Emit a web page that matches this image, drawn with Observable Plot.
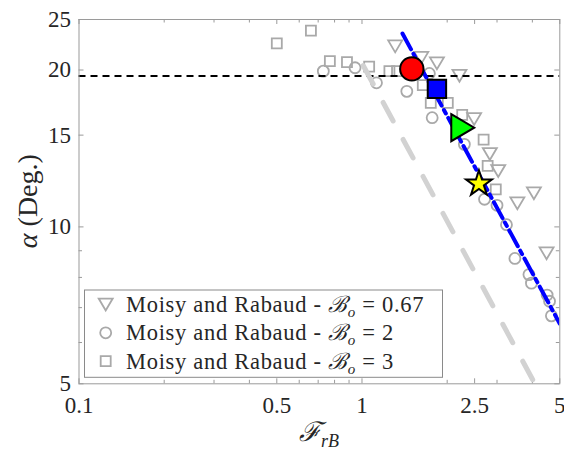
<!DOCTYPE html>
<html>
<head>
<meta charset="utf-8">
<script src="https://cdn.jsdelivr.net/npm/d3@7"></script>
<script src="https://cdn.jsdelivr.net/npm/@observablehq/plot@0.6"></script>
<style>
  html, body { margin: 0; padding: 0; background: #fff; }
  #chart svg { display: block; }
</style>
</head>
<body>
<div id="chart"></div>
<script>
// Moisy and Rabaud wake angles for three Bond numbers
const triFr    = [1.31, 1.62, 1.84, 2.21, 2.49, 2.83, 3.03, 3.54, 4.05, 4.49];
const triAlpha = [22.2, 21.1, 20.6, 19.5, 16.1, 13.8, 12.8, 11.1, 11.6, 8.9];
const cirFr    = [0.73, 0.945, 1.125, 1.44, 1.73, 1.77, 2.30, 2.71, 3.00, 3.24, 3.47, 3.89, 3.97, 4.51, 4.60, 4.67];
const cirAlpha = [19.9, 20.2, 18.9, 18.2, 19.7, 16.2, 14.4, 11.3, 11.0, 10.1, 8.7, 8.1, 7.8, 7.4, 7.2, 6.75];
const sqFr     = [0.50, 0.66, 0.77, 0.885, 1.06, 1.25, 1.33, 1.64, 1.75, 2.01, 2.26, 2.69, 2.78, 2.97];
const sqAlpha  = [22.5, 23.8, 20.8, 20.7, 20.3, 19.9, 19.9, 18.7, 17.3, 17.3, 16.4, 14.7, 13.1, 11.8];

// present runs
const caseFr    = [1.50, 1.84, 2.27, 2.59];
const caseAlpha = [20.1, 18.4, 15.5, 12.1];
const caseShape = ["circle", "square", "triangle", "star"];
const caseColor = ["#ff0000", "#0000ff", "#00ff00", "#ffff00"];

// Kelvin angle and trend lines
const kelvinAngle = 19.47;
const fitFr  = [1.39, 5.0];
const fitAlpha = [23.5, 6.52];
const refFr  = [1.01, 4.1];
const refAlpha = [20.4, 4.98];

// axis ticks
const xTicks = [0.1, 0.5, 1, 2.5, 5];
const yTicks = [5, 10, 15, 20, 25];
const xMinor = [0.2, 0.3, 0.4, 0.6, 0.7, 0.8, 0.9, 2, 3, 4];
const yMinor = [6, 7, 8, 9];

const legendLabels = ["0.67", "2", "3"];

// ---- layout ----
const W = 564, H = 455;
const mL = 78.5, mR = 4.7, mT = 19, mB = 71.7;
const plotH = H - mT - mB;
const plotW = W - mL - mR;
const grayMarker = "#a9a9a9";
const frameColor = "#9a9a9a";
const serif = "'Liberation Serif', 'DejaVu Serif', serif";

// ---- marker symbols (r = sqrt(size / PI)) ----
const rad = (size) => Math.sqrt(size / Math.PI);
const symDownTri = {draw(ctx, size) { const r = rad(size);
  ctx.moveTo(-r, -0.85 * r); ctx.lineTo(r, -0.85 * r); ctx.lineTo(0, 0.85 * r); ctx.closePath(); }};
const symRightTri = {draw(ctx, size) { const r = rad(size);
  ctx.moveTo(-0.85 * r, -r); ctx.lineTo(0.85 * r, 0); ctx.lineTo(-0.85 * r, r); ctx.closePath(); }};
const symSquare = {draw(ctx, size) { const r = rad(size); ctx.rect(-r, -r, 2 * r, 2 * r); }};
const symCircle = {draw(ctx, size) { const r = rad(size); ctx.moveTo(r, 0); ctx.arc(0, 0, r, 0, 2 * Math.PI); }};
const symStar = {draw(ctx, size) { const R = rad(size), ri = R * 0.382;
  for (let k = 0; k < 10; k++) {
    const a = -Math.PI / 2 + k * Math.PI / 5, rr = k % 2 ? ri : R;
    const px = rr * Math.cos(a), py = rr * Math.sin(a);
    k ? ctx.lineTo(px, py) : ctx.moveTo(px, py);
  }
  ctx.closePath(); }};

const caseSym  = {circle: symCircle, square: symSquare, triangle: symRightTri, star: symStar};
const caseSize = {circle: 11.7, square: 9.2, triangle: 13.5, star: 13.5};

const pts = (xs, ys) => xs.map((x, i) => ({x, y: ys[i]}));

// tick marks drawn inward on all four sides
function tickMarks(values, len) {
  return [
    Plot.tickX(values, {x: d => d, insetTop: plotH - len, stroke: frameColor}),
    Plot.tickX(values, {x: d => d, insetBottom: plotH - len, stroke: frameColor}),
  ];
}
function tickMarksY(values, len) {
  return [
    Plot.tickY(values, {y: d => d, insetRight: plotW - len, stroke: frameColor}),
    Plot.tickY(values, {y: d => d, insetLeft: plotW - len, stroke: frameColor}),
  ];
}

const caseMarks = caseFr.map((f, i) => Plot.dot([{x: f, y: caseAlpha[i]}], {
  x: "x", y: "y",
  symbol: caseSym[caseShape[i]], r: caseSize[caseShape[i]],
  fill: caseColor[i], stroke: "#000", strokeWidth: 2
}));

const chart = Plot.plot({
  width: W, height: H,
  marginLeft: mL, marginRight: mR, marginTop: mT, marginBottom: mB,
  style: {fontFamily: serif, fontSize: "23px", color: "#262626", background: "#fff", overflow: "visible"},
  x: {type: "log", domain: [0.1, 5]},
  y: {type: "log", domain: [5, 25]},
  marks: [
    Plot.axisX({ticks: xTicks, tickSize: 0, tickPadding: 13, tickFormat: d => String(d), label: null}),
    Plot.axisY({ticks: yTicks, tickSize: 0, tickPadding: 8, tickFormat: d => String(d), label: null}),
    ...tickMarks(xTicks, 5), ...tickMarks(xMinor, 3.5),
    ...tickMarksY(yTicks, 5), ...tickMarksY(yMinor, 3.5),
    Plot.dot(pts(triFr, triAlpha), {x: "x", y: "y", symbol: symDownTri, r: 7, fill: "none", stroke: grayMarker, strokeWidth: 1.8}),
    Plot.dot(pts(cirFr, cirAlpha), {x: "x", y: "y", symbol: symCircle, r: 5.5, fill: "none", stroke: grayMarker, strokeWidth: 1.8}),
    Plot.dot(pts(sqFr, sqAlpha), {x: "x", y: "y", symbol: symSquare, r: 5, fill: "none", stroke: grayMarker, strokeWidth: 1.8}),
    Plot.ruleY([kelvinAngle], {stroke: "#000", strokeWidth: 2, strokeDasharray: "7,5"}),
    Plot.line(pts(refFr, refAlpha), {x: "x", y: "y", stroke: "#d2d2d2", strokeWidth: 5, strokeDasharray: "21,21", clip: true}),
    Plot.line(pts(fitFr, fitAlpha), {x: "x", y: "y", stroke: "#0000ff", strokeWidth: 4, strokeDasharray: "18,5,4,5", clip: true}),
    ...caseMarks,
    Plot.frame({stroke: frameColor, strokeWidth: 1})
  ]
});

document.getElementById("chart").appendChild(chart);

// ---- axis titles and legend ----
const svg = d3.select(chart);

const xt = svg.append("text")
  .attr("x", mL + plotW / 2).attr("y", 441)
  .attr("text-anchor", "middle").attr("fill", "#262626")
  .style("font-family", serif).style("font-size", "27px");
xt.append("tspan").style("font-style", "italic").text("\u2131");
xt.append("tspan").attr("dy", 6).style("font-size", "18px").style("font-style", "italic").text("rB");

const yt = svg.append("text")
  .attr("transform", `translate(37,${mT + plotH / 2}) rotate(-90)`)
  .attr("text-anchor", "middle").attr("fill", "#262626")
  .style("font-family", serif).style("font-size", "28px");
yt.append("tspan").style("font-style", "italic").text("\u03b1");
yt.append("tspan").text(" (Deg.)");

const lg = svg.append("g").attr("text-anchor", "start");
lg.append("rect")
  .attr("x", 84.5).attr("y", 290).attr("width", 358).attr("height", 87.3)
  .attr("fill", "#fff").attr("stroke", "#8a8a8a").attr("stroke-width", 1);

const legendSyms = [[symDownTri, 7], [symCircle, 5.5], [symSquare, 5]];
legendLabels.forEach((lab, i) => {
  const cy = 304.5 + i * 28.3;
  const [sym, r] = legendSyms[i];
  lg.append("path")
    .attr("d", d3.symbol(sym, Math.PI * r * r)())
    .attr("transform", `translate(105.7,${cy})`)
    .attr("fill", "none").attr("stroke", grayMarker).attr("stroke-width", 1.8);
  const t = lg.append("text")
    .attr("x", 126).attr("y", cy + 7.5).attr("fill", "#262626")
    .attr("text-anchor", "start")
    .style("font-family", serif).style("font-size", "22.5px").style("letter-spacing", "0.7px");
  t.append("tspan").text("Moisy and Rabaud - ");
  t.append("tspan").style("font-style", "italic").text("\u212c");
  t.append("tspan").attr("dy", 5).style("font-size", "15px").style("font-style", "italic").text("o");
  t.append("tspan").attr("dy", -5).text(" = " + lab);
});
</script>
</body>
</html>
